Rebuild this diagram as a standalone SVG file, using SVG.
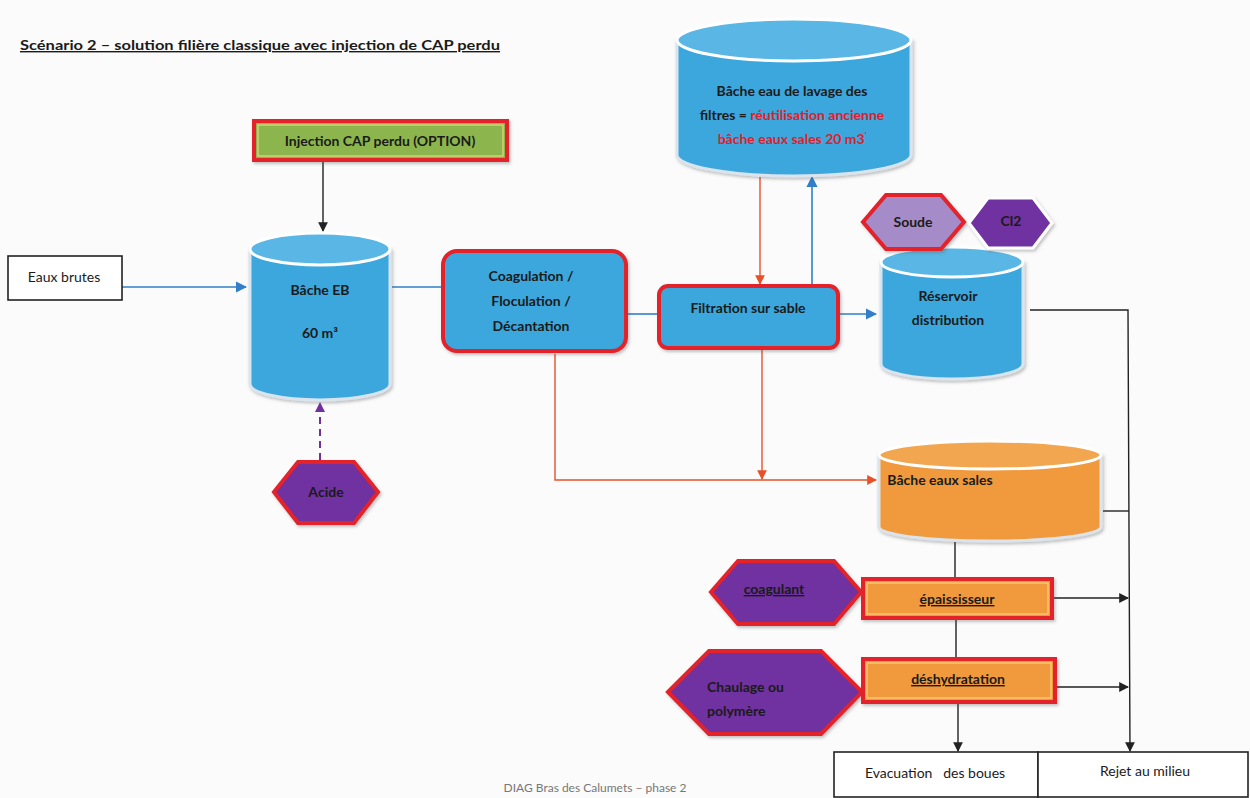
<svg xmlns="http://www.w3.org/2000/svg" width="1250" height="798" viewBox="0 0 1250 798">
  <style>
    .t { font-family: Lato, "Open Sans", "Liberation Sans", sans-serif; font-size: 14px; fill: #1a1a1a; text-anchor: middle; }
    .b { font-weight: bold; }
    .red { fill: #e0202a; }
    .box { fill: #ffffff; stroke: #222; stroke-width: 1.6; }
    .proc { fill: #3aa7dd; stroke: #e3202a; stroke-width: 4; filter: url(#sh); }
    .cylB { fill: #3aa7dd; stroke: #d9e4ee; stroke-width: 3; filter: url(#sh); }
    .cylBtop { fill: #5ab6e4; stroke: #ffffff; stroke-width: 3; }
    .cylO { fill: #f09a3e; stroke: #dde3ea; stroke-width: 3; filter: url(#sh); }
    .cylOtop { fill: #f3a650; stroke: #ffffff; stroke-width: 3; }
    .hexD { fill: #7030a0; stroke: #e3202a; stroke-width: 4; filter: url(#sh); }
    .hexL { fill: #a68bc9; stroke: #e3202a; stroke-width: 4; filter: url(#sh); }
    .hexW { fill: #7030a0; stroke: #ffffff; stroke-width: 3; filter: url(#sh); }
    .sludge { fill: #f19a3e; stroke: #e3202a; stroke-width: 4; filter: url(#sh); }
    .inner { fill: none; stroke: #f8e08a; stroke-width: 1; }
    .blue { stroke: #2f80c8; stroke-width: 1.6; fill: none; }
    .org { stroke: #e8502a; stroke-width: 1.4; fill: none; }
    .blk { stroke: #222; stroke-width: 1.4; fill: none; }
    .pur { stroke: #7030a0; stroke-width: 2; fill: none; stroke-dasharray: 7 5; }
  </style>
  <defs>
    <filter id="sh" x="-10%" y="-10%" width="125%" height="130%">
      <feDropShadow dx="1.5" dy="2" stdDeviation="1.5" flood-color="#555" flood-opacity="0.35"/>
    </filter>
    <marker id="aB" viewBox="0 0 10 10" refX="9" refY="5" markerWidth="7" markerHeight="7" orient="auto-start-reverse">
      <path d="M0,0 L10,5 L0,10 Z" fill="#2f80c8"/>
    </marker>
    <marker id="aO" viewBox="0 0 10 10" refX="9" refY="5" markerWidth="7" markerHeight="7" orient="auto-start-reverse">
      <path d="M0,0 L10,5 L0,10 Z" fill="#e8502a"/>
    </marker>
    <marker id="aK" viewBox="0 0 10 10" refX="9" refY="5" markerWidth="7" markerHeight="7" orient="auto-start-reverse">
      <path d="M0,0 L10,5 L0,10 Z" fill="#222"/>
    </marker>
    <marker id="aP" viewBox="0 0 10 10" refX="9" refY="5" markerWidth="5" markerHeight="5" orient="auto-start-reverse">
      <path d="M0,0 L10,5 L0,10 Z" fill="#7030a0"/>
    </marker>
  </defs>

  <rect width="1250" height="798" fill="#fbfbfb"/>

  <!-- heading -->
  <text x="20" y="50" style="font-family: Lato, 'Liberation Sans', sans-serif; font-size: 14px; font-weight: bold; fill: #1a1a1a; text-decoration: underline;" textLength="480" lengthAdjust="spacingAndGlyphs">Scénario 2 – solution filière classique  avec injection de CAP perdu</text>

  <!-- connectors -->
  <g id="connectors">
    <line class="blk" x1="323" y1="160" x2="323" y2="231" marker-end="url(#aK)"/>
    <line class="blue" x1="122" y1="287" x2="246" y2="287" marker-end="url(#aB)"/>
    <line class="blue" x1="392" y1="287" x2="442" y2="287"/>
    <line class="blue" x1="626" y1="314" x2="658" y2="314"/>
    <line class="blue" x1="838" y1="314" x2="876" y2="314" marker-end="url(#aB)"/>
    <line class="blue" x1="812" y1="285" x2="812" y2="177" marker-end="url(#aB)"/>
    <line class="org" x1="760" y1="177" x2="760" y2="284" marker-end="url(#aO)"/>
    <polyline class="org" points="555,354 555,480 876,480" marker-end="url(#aO)"/>
    <line class="org" x1="762" y1="350" x2="762" y2="479" marker-end="url(#aO)"/>
    <line class="pur" x1="320" y1="460" x2="320" y2="403" marker-end="url(#aP)"/>
    <polyline class="blk" points="1030,310 1128,310 1130,751" marker-end="url(#aK)"/>
    <line class="blk" x1="1103" y1="511" x2="1129" y2="511"/>
    <line class="blk" x1="955" y1="542" x2="955" y2="578"/>
    <line class="blk" x1="1052" y1="598" x2="1128" y2="598" marker-end="url(#aK)"/>
    <line class="blk" x1="956" y1="618" x2="956" y2="657"/>
    <line class="blk" x1="1055" y1="687" x2="1128" y2="687" marker-end="url(#aK)"/>
    <line class="blk" x1="958" y1="703" x2="958" y2="751" marker-end="url(#aK)"/>
  </g>

  <g id="injection-cap">
    <rect x="254" y="121" width="253" height="39" fill="#8cb64e" stroke="#e3202a" stroke-width="4" filter="url(#sh)"/>
    <rect x="258" y="125" width="245" height="31" class="inner"/>
    <text class="t b" x="380" y="146">Injection CAP perdu (OPTION)</text>
  </g>

  <g id="eaux-brutes">
    <rect class="box" x="8" y="256" width="114" height="44"/>
    <text class="t" x="64" y="282">Eaux brutes</text>
  </g>

  <g id="bache-eb">
    <path class="cylB" d="M250,249 L250,384 A70,16 0 0 0 390,384 L390,249 Z"/>
    <ellipse class="cylBtop" cx="320" cy="249" rx="70" ry="16"/>
    <text class="t b" x="320" y="295">Bâche EB</text>
    <text class="t b" x="320" y="338">60 m³</text>
  </g>

  <g id="coagulation">
    <rect class="proc" x="443" y="251" width="183" height="100" rx="14"/>
    <text class="t b" x="531" y="281">Coagulation /</text>
    <text class="t b" x="531" y="306">Floculation /</text>
    <text class="t b" x="531" y="331">Décantation</text>
  </g>

  <g id="filtration">
    <rect class="proc" x="659" y="286" width="179" height="62" rx="9"/>
    <text class="t b" x="748" y="313">Filtration sur sable</text>
  </g>

  <g id="bache-lavage">
    <path class="cylB" d="M677,40 L677,155 A117,21 0 0 0 911,155 L911,40 Z"/>
    <ellipse class="cylBtop" cx="794" cy="40" rx="117" ry="21"/>
    <text class="t b" x="792" y="96">Bâche eau de lavage des</text>
    <text class="t b" x="792" y="120">filtres = <tspan class="red">réutilisation ancienne</tspan></text>
    <text class="t b red" x="792" y="144">bâche eaux sales 20 m3<tspan font-size="8" dy="-6">'</tspan></text>
  </g>

  <g id="reservoir">
    <path class="cylB" d="M881,262 L881,364 A71,15 0 0 0 1023,364 L1023,262 Z"/>
    <ellipse class="cylBtop" cx="952" cy="262" rx="71" ry="15"/>
    <text class="t b" x="948" y="301">Réservoir</text>
    <text class="t b" x="948" y="325">distribution</text>
  </g>

  <g id="soude">
    <polygon class="hexL" points="863,222 886,195 941,195 964,222 941,249 886,249"/>
    <text class="t b" x="913" y="227">Soude</text>
  </g>

  <g id="cl2">
    <polygon class="hexW" points="969,223 988,198 1033,198 1052,223 1033,248 988,248"/>
    <text class="t b" x="1011" y="226">Cl2</text>
  </g>

  <g id="acide">
    <polygon class="hexD" points="274,492 298,462 354,462 378,492 354,523 298,523"/>
    <text class="t b" x="326" y="497">Acide</text>
  </g>

  <g id="bache-eaux-sales">
    <path class="cylO" d="M879,455 L879,527 A111,14 0 0 0 1101,527 L1101,455 Z"/>
    <ellipse class="cylOtop" cx="990" cy="455" rx="111" ry="14"/>
    <text class="t b" x="940" y="485">Bâche eaux sales</text>
  </g>

  <g id="coagulant">
    <polygon class="hexD" points="711,592 738,561 834,561 861,592 834,624 738,624"/>
    <text class="t b" x="774" y="594" text-decoration="underline">coagulant</text>
  </g>

  <g id="epaississeur">
    <rect class="sludge" x="863" y="579" width="189" height="39"/>
    <rect x="867" y="583" width="181" height="31" class="inner"/>
    <text class="t b" x="957" y="604" text-decoration="underline">épaississeur</text>
  </g>

  <g id="chaulage">
    <polygon class="hexD" points="668,692 709,651 821,651 862,692 821,734 709,734"/>
    <text class="t b" x="707" y="692" style="text-anchor:start">Chaulage ou</text>
    <text class="t b" x="707" y="716" style="text-anchor:start">polymère</text>
  </g>

  <g id="deshydratation">
    <rect class="sludge" x="863" y="659" width="192" height="43"/>
    <rect x="867" y="663" width="184" height="35" class="inner"/>
    <text class="t b" x="958" y="684" text-decoration="underline">déshydratation</text>
  </g>

  <g id="evacuation">
    <rect class="box" x="834" y="752" width="204" height="45"/>
    <text class="t" x="935" y="778" style="white-space:pre">Evacuation   des boues</text>
  </g>

  <g id="rejet">
    <rect class="box" x="1038" y="752" width="210" height="45"/>
    <text class="t" x="1145" y="776">Rejet au milieu</text>
  </g>

  <text x="595" y="792" style="font-family: Lato, 'Liberation Sans', sans-serif; font-size: 12px; fill: #777; text-anchor: middle;">DIAG Bras des Calumets – phase 2</text>
</svg>
